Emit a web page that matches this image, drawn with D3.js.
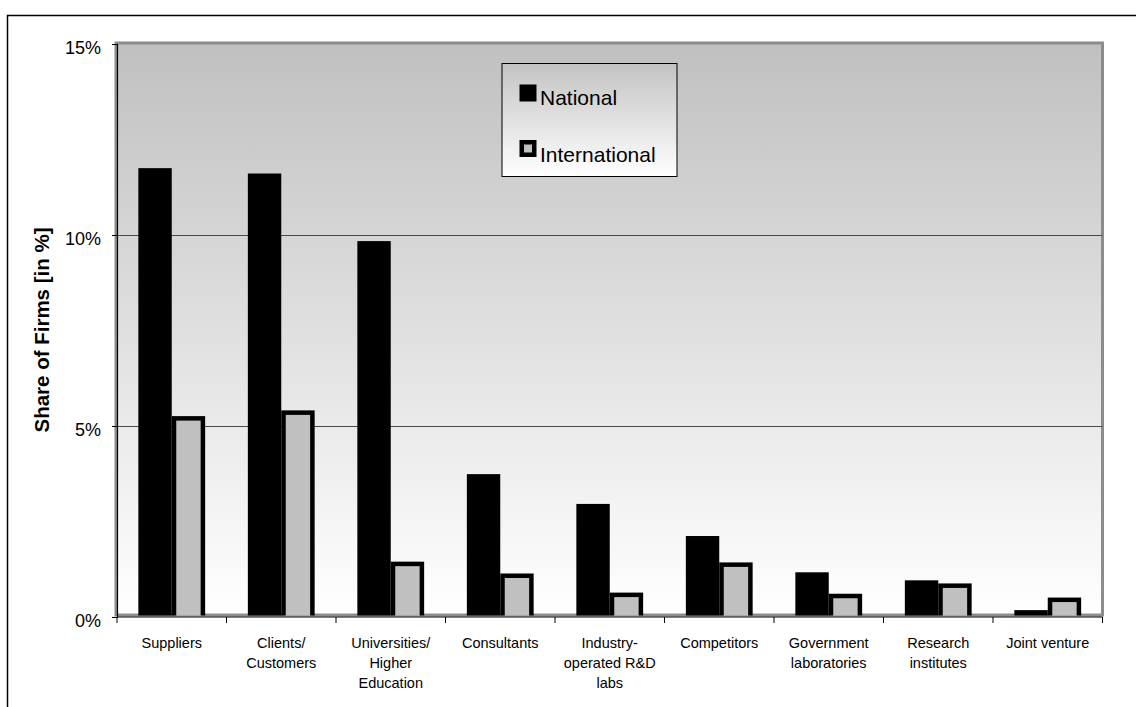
<!DOCTYPE html>
<html>
<head>
<meta charset="utf-8">
<script src="https://cdn.jsdelivr.net/npm/d3@7"></script>
<style>
  body { margin: 0; background: #fff; }
  svg { display: block; }
  text { font-family: "Liberation Sans", Arial, sans-serif; fill: #000; }
</style>
</head>
<body>
<script>
// Cooperation partners, share of firms (in %)
const categories = [
  "Suppliers",
  "Clients/\nCustomers",
  "Universities/\nHigher\nEducation",
  "Consultants",
  "Industry-\noperated R&D\nlabs",
  "Competitors",
  "Government\nlaboratories",
  "Research\ninstitutes",
  "Joint venture"
];
const seriesNames = ["National", "International"];
const national      = [11.75, 11.61, 9.84, 3.74, 2.96, 2.12, 1.17, 0.96, 0.18];
const international = [5.20, 5.35, 1.39, 1.08, 0.58, 1.37, 0.55, 0.82, 0.45];
const yTickValues = [0, 5, 10, 15];
const yTickLabels = ["0%", "5%", "10%", "15%"];
const yAxisTitle = "Share of Firms [in %]";

const W = 1136, H = 707;
const plot = { left: 117, top: 44, right: 1102.5, bottom: 617 };

const svg = d3.select("body").append("svg")
  .attr("width", W).attr("height", H);

const defs = svg.append("defs");
const g1 = defs.append("linearGradient").attr("id", "plotFill")
  .attr("x1", 0).attr("y1", 0).attr("x2", 0).attr("y2", 1);
g1.append("stop").attr("offset", "0%").attr("stop-color", "#c0c0c0");
g1.append("stop").attr("offset", "100%").attr("stop-color", "#ffffff");
const g2 = defs.append("linearGradient").attr("id", "legendFill")
  .attr("x1", 0).attr("y1", 0).attr("x2", 0).attr("y2", 1);
g2.append("stop").attr("offset", "0%").attr("stop-color", "#c3c3c3");
g2.append("stop").attr("offset", "100%").attr("stop-color", "#ffffff");
defs.append("clipPath").attr("id", "plotClip")
  .append("rect")
  .attr("x", plot.left).attr("y", 0)
  .attr("width", plot.right - plot.left).attr("height", plot.bottom - 1.5);

// outer frame
svg.append("rect")
  .attr("x", 7.5).attr("y", 15.5)
  .attr("width", 1140).attr("height", 720)
  .attr("fill", "none").attr("stroke", "#000").attr("stroke-width", 1.5);

const x = d3.scaleBand().domain(categories)
  .range([plot.left, plot.right]).paddingInner(0).paddingOuter(0);
const bw = x.bandwidth();
const xSub = d3.scaleBand().domain(seriesNames)
  .range([bw * 0.195, bw * 0.805]).paddingInner(0);
const y = d3.scaleLinear().domain([0, 15]).range([plot.bottom, plot.top]);

// plot area
svg.append("rect")
  .attr("x", plot.left - 1).attr("y", plot.top - 1)
  .attr("width", plot.right - plot.left + 1)
  .attr("height", plot.bottom - plot.top - 1)
  .attr("fill", "url(#plotFill)")
  .attr("stroke", "#8c8c8c").attr("stroke-width", 3);

// gridlines
svg.append("g").selectAll("line")
  .data(yTickValues.filter(v => v > 0 && v < 15))
  .join("line")
  .attr("x1", plot.left).attr("x2", plot.right)
  .attr("y1", d => Math.round(y(d)) + 0.5).attr("y2", d => Math.round(y(d)) + 0.5)
  .attr("stroke", "#4a4a4a").attr("stroke-width", 1);

// bars
const rows = categories.map((c, i) => ({ cat: c, national: national[i], international: international[i] }));
const bars = svg.append("g").attr("clip-path", "url(#plotClip)");
bars.selectAll("rect.nat").data(rows).join("rect")
  .attr("class", "nat")
  .attr("x", d => x(d.cat) + xSub("National"))
  .attr("y", d => y(d.national))
  .attr("width", xSub.bandwidth())
  .attr("height", d => y(0) - y(d.national))
  .attr("fill", "#000");
const sw = 4.5;
bars.selectAll("rect.intl").data(rows).join("rect")
  .attr("class", "intl")
  .attr("x", d => x(d.cat) + xSub("International") + sw / 2)
  .attr("y", d => y(d.international))
  .attr("width", xSub.bandwidth() - sw)
  .attr("height", d => y(0) - y(d.international) + sw)
  .attr("fill", "#c0c0c0")
  .attr("stroke", "#000").attr("stroke-width", sw);

// axes
const yAxis = d3.axisLeft(y).tickValues(yTickValues)
  .tickFormat((d, i) => yTickLabels[i]).tickSize(5).tickPadding(4);
const yG = svg.append("g").attr("transform", `translate(${plot.left},0)`).call(yAxis);
yG.select(".domain").attr("stroke", "#000").attr("stroke-width", 1.2);
yG.selectAll(".tick line").attr("stroke", "#000");
yG.selectAll(".tick text")
  .attr("font-size", 18).attr("font-family", "Liberation Sans, Arial, sans-serif")
  .attr("x", -16).attr("dy", "0.55em");

// category boundary ticks on the x axis
const xG = svg.append("g");
xG.append("line")
  .attr("x1", plot.left).attr("x2", plot.right)
  .attr("y1", plot.bottom).attr("y2", plot.bottom)
  .attr("stroke", "#000").attr("stroke-width", 1.2);
const bounds = categories.map(c => x(c)).concat([plot.right]);
xG.selectAll("line.t").data(bounds).join("line")
  .attr("class", "t")
  .attr("x1", d => d).attr("x2", d => d)
  .attr("y1", plot.bottom).attr("y2", plot.bottom + 6)
  .attr("stroke", "#000").attr("stroke-width", 1);

// category labels
const labels = svg.append("g").selectAll("text").data(categories).join("text")
  .attr("x", d => x(d) + bw / 2)
  .attr("y", 648)
  .attr("text-anchor", "middle")
  .attr("font-size", 14.5);
labels.each(function(d) {
  const t = d3.select(this);
  d.split("\n").forEach((line, i) => {
    t.append("tspan").attr("x", x(d) + bw / 2).attr("dy", i === 0 ? 0 : 20).text(line);
  });
});

// y axis title
svg.append("text")
  .attr("transform", "translate(49,330) rotate(-90)")
  .attr("text-anchor", "middle")
  .attr("font-size", 20.5).attr("font-weight", "bold")
  .text(yAxisTitle);

// legend
const lg = svg.append("g");
lg.append("rect")
  .attr("x", 502).attr("y", 63.5).attr("width", 175).attr("height", 113)
  .attr("fill", "url(#legendFill)").attr("stroke", "#000").attr("stroke-width", 1);
lg.append("rect").attr("x", 519.5).attr("y", 84.5).attr("width", 17).attr("height", 17)
  .attr("fill", "#000");
lg.append("rect").attr("x", 521.75).attr("y", 142.25).attr("width", 12.5).attr("height", 12.5)
  .attr("fill", "#c0c0c0").attr("stroke", "#000").attr("stroke-width", 4.5);
lg.append("text").attr("x", 540).attr("y", 105).attr("font-size", 21).text(seriesNames[0]);
lg.append("text").attr("x", 540).attr("y", 161.5).attr("font-size", 21).text(seriesNames[1]);
</script>
</body>
</html>
